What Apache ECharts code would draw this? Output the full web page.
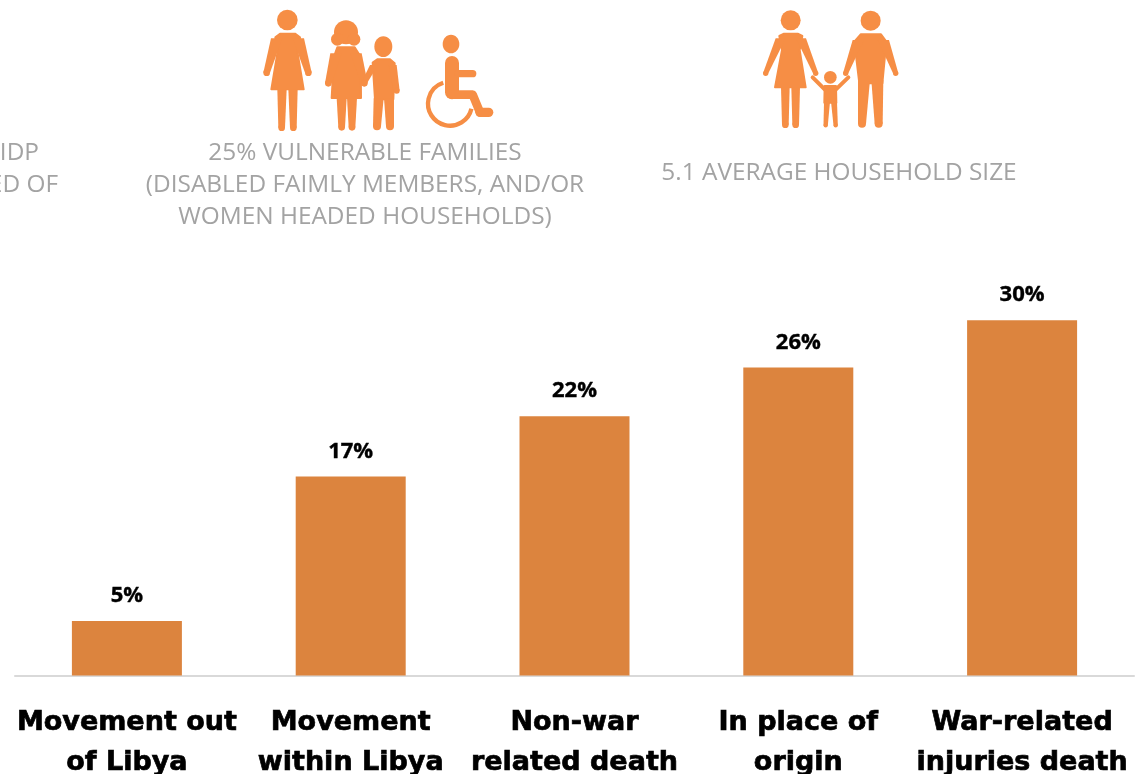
<!DOCTYPE html>
<html>
<head>
<meta charset="utf-8">
<title>Chart</title>
<script src="https://cdn.jsdelivr.net/npm/echarts@6/dist/echarts.min.js"></script>
<style>
  html, body { margin: 0; padding: 0; background: #fff; overflow: hidden; }
  #main { width: 1144px; height: 774px; }
</style>
</head>
<body>
<div id="main"></div>
<script>
const categories = [
  "Movement out\nof Libya",
  "Movement\nwithin Libya",
  "Non-war\nrelated death",
  "In place of\norigin",
  "War-related\ninjuries death"
];
const shares = [4.6, 16.8, 21.9, 26, 30];
const shareLabels = ["5%", "17%", "22%", "26%", "30%"];

const vulnerableLines = [
  "25% VULNERABLE FAMILIES",
  "(DISABLED FAIMLY MEMBERS, AND/OR",
  "WOMEN HEADED HOUSEHOLDS)"
];
const householdLine = "5.1 AVERAGE HOUSEHOLD SIZE";
const cutOffLines = ["IDP", "ED OF"];

const iconColor = "#f68e45";
const barColor = "#dc843e";
const greyText = "#a3a3a3";

// small helpers for the pictogram pieces
function dot(cx, cy, r) {
  return { type: "circle", shape: { cx, cy, r }, style: { fill: iconColor } };
}
function oval(cx, cy, rx, ry) {
  return { type: "ellipse", shape: { cx, cy, rx, ry }, style: { fill: iconColor } };
}
function blob(points) {
  return {
    type: "polygon",
    shape: { points },
    style: { fill: iconColor, stroke: iconColor, lineWidth: 6, lineJoin: "round" }
  };
}
function limb(points, w) {
  return {
    type: "polyline",
    shape: { points },
    style: { fill: null, stroke: iconColor, lineWidth: w, lineCap: "round", lineJoin: "round" }
  };
}
// arm or leg: wide at the top, narrow with a round end at the bottom
function taper(x1, y1, w1, x2, y2, w2) {
  return [
    {
      type: "polygon",
      shape: { points: [[x1 - w1 / 2, y1], [x1 + w1 / 2, y1], [x2 + w2 / 2, y2], [x2 - w2 / 2, y2]] },
      style: { fill: iconColor }
    },
    dot(x2, y2, w2 / 2)
  ];
}
function greyLine(text, x, y, align) {
  return {
    type: "text",
    x,
    y,
    style: {
      text,
      fill: greyText,
      align: align || "center",
      verticalAlign: "middle",
      font: "24.4px 'Open Sans'"
    }
  };
}

// drawn at 3x, then scaled down
const leftIcons = {
  type: "group",
  x: 250,
  y: 0,
  scaleX: 1 / 3,
  scaleY: 1 / 3,
  children: [
    // woman
    dot(112, 60, 31),
    blob([[76, 112], [90, 101], [135, 101], [150, 112], [143, 160], [161, 268], [64, 268], [82, 160]]),
    taper(80, 115, 34, 50, 218, 20),
    taper(145, 115, 34, 175, 218, 20),
    taper(96, 268, 28, 95, 383, 20),
    taper(129, 268, 28, 130, 383, 20),
    // woman with hair
    dot(288, 97, 36),
    dot(262, 118, 19),
    dot(312, 118, 19),
    blob([[262, 142], [314, 142], [332, 170], [333, 294], [245, 294], [252, 170]]),
    taper(258, 160, 34, 235, 250, 20),
    taper(318, 160, 34, 343, 250, 20),
    taper(275, 294, 30, 275, 382, 20),
    taper(306, 294, 30, 306, 382, 20),
    // boy
    oval(400, 140, 27, 31),
    blob([[368, 188], [382, 178], [420, 178], [434, 190], [430, 298], [375, 298]]),
    taper(372, 195, 24, 342, 250, 18),
    taper(428, 195, 24, 440, 272, 18),
    taper(386, 295, 30, 381, 379, 24),
    taper(417, 295, 30, 420, 379, 24),
    // wheelchair
    oval(603, 132, 25, 28),
    limb([[606, 189], [606, 277]], 42),
    limb([[606, 284], [668, 284], [690, 337]], 26),
    limb([[690, 337], [716, 337]], 28),
    limb([[625, 221], [668, 221]], 22),
    {
      type: "arc",
      shape: { cx: 600, cy: 311, r: 66, startAngle: 0.23, endAngle: 4.4, clockwise: true },
      style: { fill: null, stroke: iconColor, lineWidth: 13 }
    }
  ].flat()
};

const rightIcons = {
  type: "group",
  x: 750,
  y: 0,
  scaleX: 1 / 3,
  scaleY: 1 / 3,
  children: [
    // mother
    dot(122, 61, 30),
    blob([[88, 108], [102, 101], [143, 101], [157, 108], [149, 150], [167, 262], [75, 262], [96, 150]]),
    taper(92, 115, 30, 47, 220, 16),
    taper(153, 115, 30, 197, 220, 16),
    taper(106, 262, 26, 106, 374, 20),
    taper(137, 262, 26, 137, 374, 20),
    // father
    dot(362, 62, 30),
    blob([[313, 125], [332, 103], [393, 103], [409, 125], [397, 250], [328, 250]]),
    taper(325, 120, 34, 287, 220, 16),
    taper(400, 120, 34, 437, 220, 16),
    taper(342, 240, 36, 336, 371, 24),
    taper(382, 240, 36, 386, 371, 24),
    // child
    dot(241, 232, 19),
    blob([[224, 258], [258, 258], [259, 308], [223, 308]]),
    limb([[224, 268], [188, 232]], 12),
    limb([[258, 268], [295, 232]], 12),
    taper(231, 305, 18, 227, 376, 13),
    taper(252, 305, 18, 257, 376, 13)
  ].flat()
};

const mcharts = echarts.init(document.querySelector("#main"));

const option = {
  animation: false,
  backgroundColor: "#fff",
  grid: { left: 15, right: 10, top: 261, bottom: 98.5, outerBoundsMode: "none" },
  xAxis: {
    type: "category",
    data: categories,
    axisTick: { show: false },
    axisLine: { lineStyle: { color: "#d9d9d9", width: 2 } },
    axisLabel: {
      interval: 0,
      margin: 27,
      color: "#000",
      fontFamily: "DejaVu Sans",
      fontWeight: "bold",
      fontSize: 27,
      lineHeight: 40,
      textBorderColor: "#000",
      textBorderWidth: 0.7,
      verticalAlign: "top"
    }
  },
  yAxis: { type: "value", min: 0, max: 35, show: false },
  series: [
    {
      type: "bar",
      data: shares,
      barWidth: 110,
      itemStyle: { color: barColor },
      label: {
        show: true,
        position: "top",
        distance: 14,
        color: "#000",
        fontFamily: "Open Sans",
        fontWeight: "bold",
        fontSize: 22,
        textBorderColor: "#000",
        textBorderWidth: 0.4,
        formatter: (p) => shareLabels[p.dataIndex]
      }
    }
  ],
  graphic: [
    leftIcons,
    rightIcons,
    greyLine(cutOffLines[0], 39, 153, "right"),
    greyLine(cutOffLines[1], 58, 185, "right"),
    greyLine(vulnerableLines[0], 365, 153),
    greyLine(vulnerableLines[1], 365, 185),
    greyLine(vulnerableLines[2], 365, 217),
    greyLine(householdLine, 839, 173)
  ]
};

mcharts.setOption(option);
</script>
</body>
</html>
